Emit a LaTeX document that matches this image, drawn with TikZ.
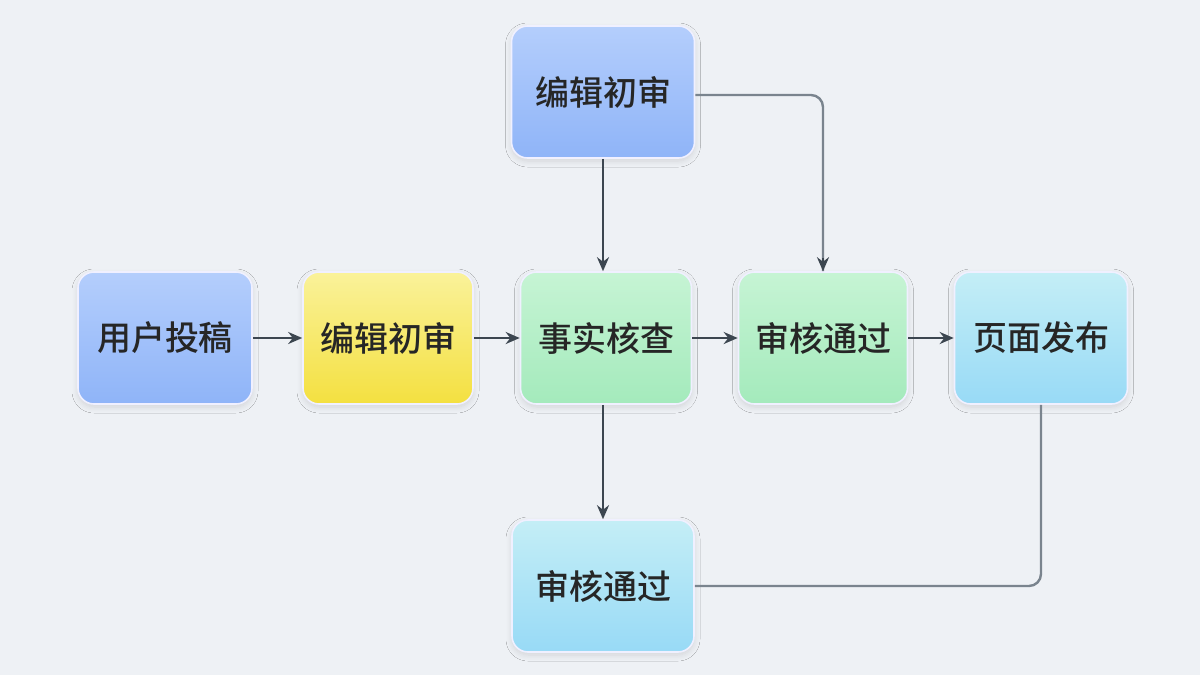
\documentclass[tikz,border=0pt]{standalone}
\usepackage{fontspec}
\newfontfamily\cjk{Noto Sans CJK SC Medium}
\usetikzlibrary{arrows.meta,shadows.blur}
\definecolor{bg}{HTML}{EEF1F5}
\definecolor{ln}{HTML}{3C4650}
\definecolor{gl}{HTML}{7A848E}
\definecolor{blT}{HTML}{B4CEFC}\definecolor{blB}{HTML}{8FB4F8}
\definecolor{ylT}{HTML}{FAF29A}\definecolor{ylB}{HTML}{F4E040}
\definecolor{grT}{HTML}{C6F4D4}\definecolor{grB}{HTML}{A4EABC}
\definecolor{cyT}{HTML}{C4EEF6}\definecolor{cyB}{HTML}{98DAF6}
\begin{document}
\begin{tikzpicture}[x=0.5pt,y=-0.5pt,
  box/.style={rounded corners=8pt,minimum width=#1*0.5pt,minimum height=66pt,inner sep=0pt,
    font=\cjk\fontsize{17}{20}\selectfont,text=black!85,draw=white!80!blue!30,line width=0.8pt,
    blur shadow={shadow blur steps=10,shadow xshift=0pt,shadow yshift=-1.5pt,shadow opacity=12,shadow blur radius=3pt}},
  arr/.style={ln,line width=1.2pt,-{Stealth[length=7pt,width=6pt]}}]
\fill[bg] (0,0) rectangle (1200,675);
\useasboundingbox (0,0) rectangle (1200,675);
\node[box=183,top color=blT,bottom color=blB] (t) at (603,92) {编辑初审};
\node[box=174,top color=blT,bottom color=blB] (a) at (165,338) {用户投稿};
\node[box=170,top color=ylT,bottom color=ylB] (b) at (388,338) {编辑初审};
\node[box=171,top color=grT,bottom color=grB] (c) at (606,338) {事实核查};
\node[box=169,top color=grT,bottom color=grB] (d) at (823,338) {审核通过};
\node[box=173,top color=cyT,bottom color=cyB] (e) at (1041,338) {页面发布};
\node[box=182,top color=cyT,bottom color=cyB] (f) at (603,586) {审核通过};
\draw[arr] (a) -- (b);
\draw[arr] (b) -- (c);
\draw[arr] (c) -- (d);
\draw[arr] (d) -- (e);
\draw[arr] (t.south) -- (t.south |- c.north);
\draw[arr] (c.south -| f.north) -- (f.north);
\draw[gl,line width=1.2pt,rounded corners=6pt] (t.east |- 0,95) -| (d.north);
\draw[ln,-{Stealth[length=7pt,width=6pt]},line width=1.2pt] (823,258) -- (d.north);
\draw[gl,line width=1.2pt,rounded corners=6pt] (e.south) |- (f.east);
\end{tikzpicture}
\end{document}
